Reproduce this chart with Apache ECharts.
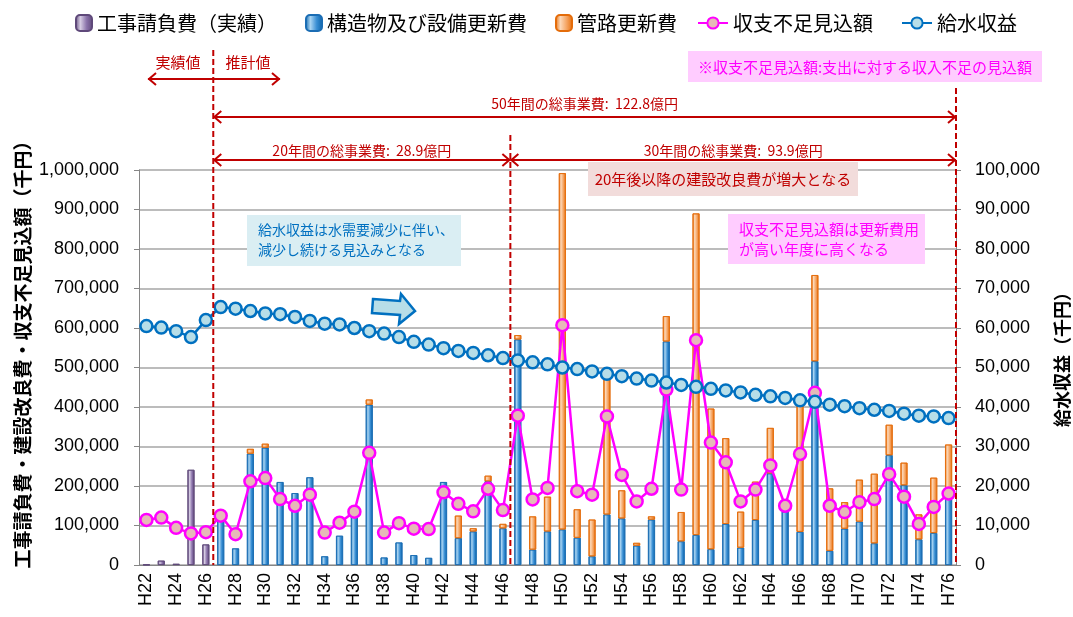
<!DOCTYPE html>
<html>
<head>
<meta charset="utf-8">
<script src="https://cdn.jsdelivr.net/npm/echarts@6/dist/echarts.min.js"></script>
<style>
  html, body { margin: 0; padding: 0; background: #fff; }
  #myChart { width: 1073px; height: 617px; }
</style>
</head>
<body>
<div id="myChart"></div>
<script>
// 年度
var years = ['H22','H23','H24','H25','H26','H27','H28','H29','H30','H31','H32','H33','H34','H35','H36','H37','H38','H39','H40','H41',
  'H42','H43','H44','H45','H46','H47','H48','H49','H50','H51','H52','H53','H54','H55','H56','H57','H58','H59','H60','H61',
  'H62','H63','H64','H65','H66','H67','H68','H69','H70','H71','H72','H73','H74','H75','H76'];

// 工事請負費(実績) 千円
var jisseki = [1000, 11000, 3000, 241000, 52000, null, null, null, null, null, null, null, null, null, null, null, null, null, null, null,
  null, null, null, null, null, null, null, null, null, null, null, null, null, null, null, null, null, null, null, null,
  null, null, null, null, null, null, null, null, null, null, null, null, null, null, null];

// 構造物及び設備更新費 千円
var kouzoubutsu = [null, null, null, null, null, 120000, 42000, 282000, 297000, 210000, 182000, 222000, 22000, 74000, 128000, 406000, 19000, 57000, 25000, 18000,
  210000, 68000, 85000, 212000, 93000, 571000, 39000, 85000, 90000, 69000, 22000, 128000, 118000, 49000, 115000, 566000, 60000, 76000, 40000, 104000,
  44000, 114000, 232000, 135000, 84000, 516000, 36000, 92000, 110000, 55000, 278000, 202000, 65000, 81000, 175000];

// 管路更新費 千円
var kanro = [null, null, null, null, null, null, null, 12000, 10000, null, null, null, null, null, null, 13000, null, null, null, null,
  null, 57000, 8000, 14000, 11000, 11000, 84000, 88000, 902000, 72000, 93000, 344000, 71000, 7000, 8000, 64000, 74000, 814000, 356000, 217000,
  91000, 97000, 115000, 6000, 320000, 218000, 158000, 67000, 106000, 176000, 77000, 57000, 63000, 140000, 130000];

// 収支不足見込額 千円
var fusoku = [114000, 120000, 94000, 80000, 83000, 125000, 78000, 212000, 220000, 167000, 150000, 178000, 82000, 107000, 135000, 284000, 82000, 106000, 92000, 91000,
  184000, 155000, 136000, 193000, 139000, 378000, 166000, 195000, 607000, 187000, 178000, 376000, 228000, 161000, 193000, 444000, 191000, 569000, 310000, 260000,
  161000, 191000, 252000, 150000, 281000, 436000, 150000, 134000, 159000, 167000, 230000, 173000, 104000, 147000, 181000];

// 給水収益 千円
var kyusui = [60500, 60100, 59200, 57700, 62000, 65300, 64900, 64300, 63700, 63500, 62800, 61800, 61100, 60900, 60000, 59200, 58600, 57700, 56500, 55800,
  54900, 54200, 53700, 53100, 52400, 51800, 51300, 50800, 50000, 49600, 49000, 48400, 47800, 47200, 46700, 46200, 45600, 45100, 44600, 44200,
  43700, 43100, 42700, 42300, 41700, 41300, 40600, 40200, 39700, 39300, 39000, 38300, 37800, 37600, 37200];

var JP = '"Noto Sans CJK JP", sans-serif';
var NUM = '"Liberation Sans", Arial, sans-serif';
var RED = '#c00000';

function grad(edge, light, mid) {
  return new echarts.graphic.LinearGradient(0, 0, 1, 0, [
    { offset: 0, color: edge },
    { offset: 0.3, color: light },
    { offset: 0.65, color: mid },
    { offset: 1, color: edge }
  ]);
}

var myChart = echarts.init(document.getElementById('myChart'));

var option = {
  animation: false,
  legend: [{
    left: 70, top: 8, itemWidth: 16, itemHeight: 16, itemGap: 28,
    textStyle: { fontFamily: JP, fontSize: 20, color: '#000' },
    data: ['工事請負費（実績）', '構造物及び設備更新費', '管路更新費']
  }, {
    left: 692, top: 8, itemWidth: 30, itemHeight: 14, itemGap: 28,
    textStyle: { fontFamily: JP, fontSize: 20, color: '#000' },
    data: ['収支不足見込額', '給水収益']
  }],
  grid: { left: 139, right: 117, top: 170, bottom: 52 },
  xAxis: {
    type: 'category',
    data: years,
    axisLine: { lineStyle: { color: '#868686' } },
    axisTick: { interval: 0, length: 6, lineStyle: { color: '#868686' } },
    axisLabel: { interval: 1, rotate: 90, margin: 8, fontFamily: NUM, fontSize: 18, color: '#000' }
  },
  yAxis: [{
    type: 'value', min: 0, max: 1000000, interval: 100000,
    axisLine: { show: true, lineStyle: { color: '#868686' } },
    axisTick: { show: true, length: 5, lineStyle: { color: '#868686' } },
    splitLine: { lineStyle: { color: '#a6a6a6', width: 1.5 } },
    axisLabel: {
      margin: 20, fontFamily: NUM, fontSize: 18, color: '#000',
      formatter: function (v) { return v.toLocaleString('en-US'); }
    }
  }, {
    type: 'value', min: 0, max: 100000, interval: 10000,
    axisLine: { show: true, lineStyle: { color: '#868686' } },
    axisTick: { show: true, length: 5, lineStyle: { color: '#868686' } },
    splitLine: { show: false },
    axisLabel: {
      margin: 19, fontFamily: NUM, fontSize: 18, color: '#000',
      formatter: function (v) { return v.toLocaleString('en-US'); }
    }
  }],
  series: [{
    name: '工事請負費（実績）', type: 'bar', stack: 'cost', barWidth: 7,
    itemStyle: { color: grad('#5f497a', '#d6cce3', '#8a72aa'), borderColor: '#5f497a', borderWidth: 0.8 },
    data: jisseki
  }, {
    name: '構造物及び設備更新費', type: 'bar', stack: 'cost', barWidth: 7,
    itemStyle: { color: grad('#0a62a8', '#a9d4f2', '#3a8fd4'), borderColor: '#1b6db4', borderWidth: 0.8 },
    data: kouzoubutsu
  }, {
    name: '管路更新費', type: 'bar', stack: 'cost', barWidth: 7,
    itemStyle: { color: grad('#e46c0a', '#fcd8b8', '#f5a462'), borderColor: '#e46c0a', borderWidth: 0.8 },
    data: kanro
  }, {
    name: '収支不足見込額', type: 'line', yAxisIndex: 0, z: 3,
    symbol: 'circle', symbolSize: 12, showAllSymbol: true,
    lineStyle: { color: '#ff00ff', width: 2.5 },
    itemStyle: { color: '#e6b9b8', borderColor: '#ff00ff', borderWidth: 2.5 },
    data: fusoku
  }, {
    name: '給水収益', type: 'line', yAxisIndex: 1, z: 4,
    symbol: 'circle', symbolSize: 12, showAllSymbol: true,
    lineStyle: { color: '#0070c0', width: 2.5 },
    itemStyle: { color: '#b7dee8', borderColor: '#0070c0', borderWidth: 2.5 },
    data: kyusui
  }]
};

myChart.setOption(option);

// 注記・矢印
var px = function (c) { return myChart.convertToPixel({ xAxisIndex: 0 }, c); };
var step = px('H23') - px('H22');
var xA = (px('H26') + px('H27')) / 2;
var xB = (px('H46') + px('H47')) / 2;
var xC = px('H76') + step / 2;
var yBase = myChart.convertToPixel({ yAxisIndex: 0 }, 0);

function txt(x, y, s, size, color, extra) {
  var st = { text: s, fill: color, fontFamily: JP, fontSize: size,
    textAlign: 'center', textVerticalAlign: 'middle', align: 'center', verticalAlign: 'middle' };
  if (extra) { for (var k in extra) st[k] = extra[k]; }
  return { type: 'text', x: x, y: y, z: 110, style: st };
}
function dash(x, y1, y2) {
  return { type: 'line', z: 100, shape: { x1: x, y1: y1, x2: x, y2: y2 },
    style: { stroke: RED, lineWidth: 2, lineDash: [6, 3] } };
}
function arrow(x1, x2, y, left, right) {
  var els = [{ type: 'line', z: 100, shape: { x1: x1, y1: y, x2: x2, y2: y }, style: { stroke: RED, lineWidth: 2 } }];
  if (left) els.push({ type: 'polyline', z: 100, shape: { points: [[x1 + 8, y - 6], [x1 + 1, y], [x1 + 8, y + 6]] }, style: { stroke: RED, lineWidth: 2, fill: null } });
  if (right) els.push({ type: 'polyline', z: 100, shape: { points: [[x2 - 8, y - 6], [x2 - 1, y], [x2 - 8, y + 6]] }, style: { stroke: RED, lineWidth: 2, fill: null } });
  return els;
}
function box(x1, y1, x2, y2, fill) {
  return { type: 'rect', z: 105, shape: { x: x1, y: y1, width: x2 - x1, height: y2 - y1 }, style: { fill: fill } };
}

var g = [];
g.push(dash(xA, 50, yBase), dash(xB, 135, yBase), dash(xC, 88, yBase));
g = g.concat(arrow(148, xA, 79, true, false), arrow(xA, 280, 79, false, true));
g.push(txt(178, 62, '実績値', 15, RED), txt(248, 62, '推計値', 15, RED));
g = g.concat(arrow(xA, xC, 117, true, true));
g.push(txt((xA + xC) / 2, 104, '50年間の総事業費:  122.8億円', 14, RED));
g = g.concat(arrow(xA, xB, 160, true, true), arrow(xB, xC, 160, true, true));
g.push(txt((xA + xB) / 2, 151, '20年間の総事業費:  28.9億円', 14, RED));
g.push(txt((xB + xC) / 2, 151, '30年間の総事業費:  93.9億円', 14, RED));

g.push(box(688, 51, 1042, 82, '#ffccff'));
g.push(txt(865, 67, '※収支不足見込額:支出に対する収入不足の見込額', 15, '#ff00ff'));

g.push(box(588, 162, 858, 196, '#f2dcdb'));
g.push(txt(723, 179, '20年後以降の建設改良費が増大となる', 15, RED));

g.push(box(247, 215, 461, 266, '#daeef3'));
g.push(txt(258, 240, '給水収益は水需要減少に伴い、\n減少し続ける見込みとなる', 14, '#0070c0',
  { textAlign: 'left', align: 'left', lineHeight: 20 }));

g.push(box(728, 214, 925, 264, '#ffccff'));
g.push(txt(739, 239, '収支不足見込額は更新費用\nが高い年度に高くなる', 15, '#ff00ff',
  { textAlign: 'left', align: 'left', lineHeight: 20 }));

g.push({ type: 'polygon', z: 105,
  shape: { points: [[373, 299], [400, 301], [401, 294], [415, 311], [399, 324], [400, 315], [372, 313]] },
  style: { fill: '#b7dee8', stroke: '#0070c0', lineWidth: 2.5 } });

g.push({ type: 'text', x: 23, y: 350, rotation: Math.PI / 2, z: 110,
  style: { text: '工事請負費・建設改良費・収支不足見込額（千円）', fill: '#000', fontFamily: JP, fontSize: 19, fontWeight: 'bold',
    textAlign: 'center', textVerticalAlign: 'middle', align: 'center', verticalAlign: 'middle' } });
g.push({ type: 'text', x: 1062, y: 355, rotation: Math.PI / 2, z: 110,
  style: { text: '給水収益（千円）', fill: '#000', fontFamily: JP, fontSize: 18, fontWeight: 'bold',
    textAlign: 'center', textVerticalAlign: 'middle', align: 'center', verticalAlign: 'middle' } });

myChart.setOption({ graphic: g });
</script>
</body>
</html>
